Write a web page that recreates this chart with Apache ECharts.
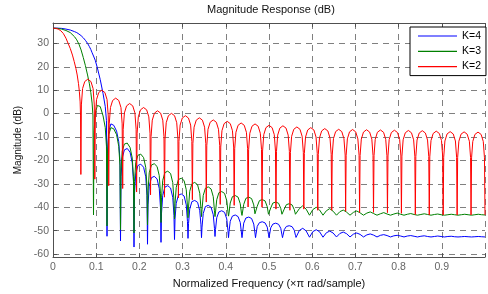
<!DOCTYPE html>
<html>
<head>
<meta charset="utf-8">
<title>Magnitude Response (dB)</title>
<script src="https://cdn.jsdelivr.net/npm/echarts@6/dist/echarts.min.js"></script>
<style>
  html, body { margin: 0; padding: 0; background: #fff; }
  #main { width: 488px; height: 294px; }
</style>
</head>
<body>
<div id="main"></div>
<script>
// legend names, same order as drawing (K=2 drawn last, on top)
var seriesNames = ['K=4', 'K=3', 'K=2'];
var seriesColors = ['#0000ff', '#008000', '#ff0000'];

// frequency samples for K=4 and K=3 (nulls every 1/32)
var freqA = [
  0, 0.01, 0.02, 0.03, 0.04, 0.05, 0.055, 0.06, 0.065, 0.07, 0.075, 0.08, 0.084, 0.0875, 0.0905, 0.0925,
  0.09375, 0.09495, 0.09775, 0.10275, 0.10935, 0.11595, 0.12095, 0.12375,
  0.125, 0.1262, 0.129, 0.134, 0.1406, 0.1472, 0.1522, 0.155,
  0.15625, 0.15745, 0.16025, 0.16525, 0.17185, 0.17845, 0.18345, 0.18625,
  0.1875, 0.1887, 0.1915, 0.1965, 0.2031, 0.2097, 0.2147, 0.2175,
  0.21875, 0.21995, 0.22275, 0.22775, 0.23435, 0.24095, 0.24595, 0.24875,
  0.25, 0.2512, 0.254, 0.259, 0.2656, 0.2722, 0.2772, 0.28,
  0.28125, 0.28245, 0.28525, 0.29025, 0.29685, 0.30345, 0.30845, 0.31125,
  0.3125, 0.3137, 0.3165, 0.3215, 0.3281, 0.3347, 0.3397, 0.3425,
  0.34375, 0.34495, 0.34775, 0.35275, 0.35935, 0.36595, 0.37095, 0.37375,
  0.375, 0.3762, 0.379, 0.384, 0.3906, 0.3972, 0.4022, 0.405,
  0.40625, 0.40745, 0.41025, 0.41525, 0.42185, 0.42845, 0.43345, 0.43625,
  0.4375, 0.4387, 0.4415, 0.4465, 0.4531, 0.4597, 0.4647, 0.4675,
  0.46875, 0.46995, 0.47275, 0.47775, 0.48435, 0.49095, 0.49595, 0.49875,
  0.5, 0.5012, 0.504, 0.509, 0.5156, 0.5222, 0.5272, 0.53,
  0.53125, 0.53245, 0.53525, 0.54025, 0.54685, 0.55345, 0.55845, 0.56125,
  0.5625, 0.5703, 0.5781, 0.5859,
  0.59375, 0.60155, 0.60935, 0.61715,
  0.625, 0.6328, 0.6406, 0.6484,
  0.65625, 0.66405, 0.67185, 0.67965,
  0.6875, 0.6953, 0.7031, 0.7109,
  0.71875, 0.72655, 0.73435, 0.74215,
  0.75, 0.7578, 0.7656, 0.7734,
  0.78125, 0.78905, 0.79685, 0.80465,
  0.8125, 0.8203, 0.8281, 0.8359,
  0.84375, 0.85155, 0.85935, 0.86715,
  0.875, 0.8828, 0.8906, 0.8984,
  0.90625, 0.91405, 0.92185, 0.92965,
  0.9375, 0.9453, 0.9531, 0.9609,
  0.96875, 0.97655, 0.98435, 0.99215,
  1
];

// K=4 magnitude (dB)
var magK4 = [
  36.5, 36.5, 36.4, 36.1, 35.7, 35, 34.6, 34, 33.3, 32.4, 31.3, 30, 28.7, 27.4, 26, 25.2,
  24.6, 24, 22.8, 19.5, 14.5, 8.5, 3, -3,
  -52.4, -16, -7.5, -4.4, -5, -7.5, -12, -20,
  -54.4, -27, -19, -15.5, -14.9, -16.5, -21, -29,
  -57, -34, -25.8, -22.2, -21.6, -22.9, -27, -35,
  -55.8, -39, -31, -27.4, -26.8, -27.9, -32, -40,
  -55, -42.5, -35, -31.4, -30.8, -31.8, -35.8, -43.5,
  -53.8, -45, -38.3, -34.9, -34.3, -35.2, -39, -46,
  -53.3, -47, -40.8, -37.6, -37.1, -37.9, -41.5, -47.5,
  -53, -48.5, -42.7, -39.7, -39.2, -40, -43.2, -49,
  -52.5, -49.5, -44.5, -42, -41.5, -42.2, -45, -50,
  -53, -50.5, -46, -43.8, -43.3, -44, -46.5, -51,
  -53, -51, -46.8, -44.6, -44.2, -44.8, -47.2, -51,
  -53, -51.5, -48.2, -46.6, -46.2, -46.7, -48.5, -51.5,
  -53, -51.8, -48.8, -47.2, -46.8, -47.3, -49, -51.8,
  -53, -52, -49.6, -48.2, -47.9, -48.3, -49.8, -52,
  -52.9, -49.9, -49, -50.1,
  -52.8, -50.4, -49.6, -50.5,
  -52.8, -50.9, -50.2, -51,
  -52.7, -51.2, -50.6, -51.3,
  -52.7, -51.5, -51, -51.6,
  -52.7, -51.8, -51.4, -51.9,
  -52.7, -52, -51.7, -52.1,
  -52.7, -52.2, -52, -52.3,
  -52.7, -52.3, -52.1, -52.4,
  -52.7, -52.4, -52.2, -52.5,
  -52.7, -52.5, -52.3, -52.5,
  -52.7, -52.5, -52.4, -52.6,
  -52.7, -52.6, -52.5, -52.6,
  -52.7, -52.6, -52.5, -52.6,
  -52.7
];

// K=3 magnitude (dB), green curve
var magK3 = [
  36.5, 36.4, 36.1, 35.5, 34.6, 32.8, 31.5, 29.7, 27.2, 24, 20.5, 16.5, 13, 9, 4.5, -1,
  -43.3, -8, 0, 3.5, 3, -1, -6, -14,
  -48, -17, -9, -6, -6.5, -9, -14, -22,
  -49.5, -24, -16, -13, -12.6, -14.5, -19, -27,
  -51, -29, -21, -17.8, -17.3, -18.8, -23, -31,
  -47.5, -33, -25.3, -22, -21.4, -22.6, -26.5, -34,
  -46.5, -36, -28.5, -25.2, -24.6, -25.6, -29.5, -37,
  -45, -38.5, -31.5, -28.2, -27.6, -28.6, -32.5, -39.5,
  -44.5, -40, -33.2, -30, -29.4, -30.4, -34, -40.5,
  -44, -41, -35, -31.9, -31.3, -32.2, -35.5, -41.5,
  -44, -42, -36.8, -33.8, -33.3, -34.1, -37.2, -42,
  -43.8, -42.5, -38.2, -35.5, -35, -35.7, -38.5, -42.5,
  -43.5, -42.8, -38.8, -36.2, -35.7, -36.3, -39, -42.8,
  -43.5, -43, -39.6, -37.2, -36.7, -37.3, -39.8, -43,
  -43.4, -43, -40.3, -38.2, -37.8, -38.3, -40.5, -43,
  -43.4, -43, -40.8, -38.9, -38.5, -39, -41, -43,
  -43.4, -40.6, -39.4, -40.8,
  -43.4, -41, -40, -41.2,
  -43.4, -41.5, -40.6, -41.7,
  -43.4, -41.9, -41.2, -42.1,
  -43.4, -42.2, -41.6, -42.4,
  -43.4, -42.5, -42, -42.7,
  -43.4, -42.8, -42.3, -42.9,
  -43.4, -42.9, -42.5, -43,
  -43.4, -43, -42.7, -43.1,
  -43.4, -43.1, -42.8, -43.1,
  -43.4, -43.1, -42.9, -43.2,
  -43.4, -43.2, -43, -43.2,
  -43.4, -43.2, -43, -43.2,
  -43.4, -43.2, -43, -43.2,
  -43.3
];

// frequency samples for K=2 (nulls every 1/31)
var freqB = [
  0, 0.006, 0.012, 0.018, 0.024, 0.03, 0.035, 0.04, 0.045, 0.049, 0.053, 0.056, 0.059, 0.061, 0.0628, 0.0638,
  0.0645, 0.0657, 0.0685, 0.0735, 0.0806, 0.0878, 0.0928, 0.0956,
  0.0968, 0.0980, 0.1008, 0.1058, 0.1129, 0.1201, 0.1251, 0.1279,
  0.1290, 0.1302, 0.1330, 0.1380, 0.1451, 0.1523, 0.1573, 0.1601,
  0.1613, 0.1625, 0.1653, 0.1703, 0.1774, 0.1846, 0.1896, 0.1924,
  0.1935, 0.1947, 0.1975, 0.2025, 0.2096, 0.2168, 0.2218, 0.2246,
  0.2258, 0.2270, 0.2298, 0.2348, 0.2419, 0.2491, 0.2541, 0.2569,
  0.2581, 0.2593, 0.2621, 0.2671, 0.2742, 0.2814, 0.2864, 0.2892,
  0.2903, 0.2915, 0.2943, 0.2993, 0.3064, 0.3136, 0.3186, 0.3214,
  0.3226, 0.3238, 0.3266, 0.3316, 0.3387, 0.3459, 0.3509, 0.3537,
  0.3548, 0.3560, 0.3588, 0.3638, 0.3709, 0.3781, 0.3831, 0.3859,
  0.3871, 0.3883, 0.3911, 0.3961, 0.4032, 0.4104, 0.4154, 0.4182,
  0.4194, 0.4206, 0.4234, 0.4284, 0.4355, 0.4427, 0.4477, 0.4505,
  0.4516, 0.4528, 0.4556, 0.4606, 0.4677, 0.4749, 0.4799, 0.4827,
  0.4839, 0.4851, 0.4879, 0.4929, 0.5000, 0.5072, 0.5122, 0.5150,
  0.5161, 0.5173, 0.5201, 0.5251, 0.5322, 0.5394, 0.5444, 0.5472,
  0.5484, 0.5496, 0.5524, 0.5574, 0.5645, 0.5717, 0.5767, 0.5795,
  0.5806, 0.5818, 0.5846, 0.5896, 0.5967, 0.6039, 0.6089, 0.6117,
  0.6129, 0.6141, 0.6169, 0.6219, 0.6290, 0.6362, 0.6412, 0.6440,
  0.6452, 0.6464, 0.6492, 0.6542, 0.6613, 0.6685, 0.6735, 0.6763,
  0.6774, 0.6786, 0.6814, 0.6864, 0.6935, 0.7007, 0.7057, 0.7085,
  0.7097, 0.7109, 0.7137, 0.7187, 0.7258, 0.7330, 0.7380, 0.7408,
  0.7419, 0.7431, 0.7459, 0.7509, 0.7580, 0.7652, 0.7702, 0.7730,
  0.7742, 0.7754, 0.7782, 0.7832, 0.7903, 0.7975, 0.8025, 0.8053,
  0.8065, 0.8077, 0.8105, 0.8155, 0.8226, 0.8298, 0.8348, 0.8376,
  0.8387, 0.8399, 0.8427, 0.8477, 0.8548, 0.8620, 0.8670, 0.8698,
  0.8710, 0.8722, 0.8750, 0.8800, 0.8871, 0.8943, 0.8993, 0.9021,
  0.9032, 0.9044, 0.9072, 0.9122, 0.9193, 0.9265, 0.9315, 0.9343,
  0.9355, 0.9367, 0.9395, 0.9445, 0.9516, 0.9588, 0.9638, 0.9666,
  0.9677, 0.9689, 0.9717, 0.9767, 0.9838, 0.9910, 0.9960, 0.9988,
  1
];

// K=2 magnitude (dB), red curve
var magK2 = [
  36.5, 36.4, 36.1, 35.4, 34.2, 32.2, 30, 27.8, 25, 22.3, 19.3, 16.5, 12.8, 9.5, 5, -1,
  -26, 3.7, 10.7, 13.7, 14.7, 13.7, 10.7, 3.7,
  -28, -1, 6, 9, 10, 9, 6, -1,
  -30.8, -4.4, 2.6, 5.6, 6.6, 5.6, 2.6, -4.4,
  -32, -6.7, 0.3, 3.3, 4.3, 3.3, 0.3, -6.7,
  -33.5, -8.4, -1.4, 1.6, 2.6, 1.6, -1.4, -8.4,
  -34.7, -9.8, -2.8, 0.2, 1.2, 0.2, -2.8, -9.8,
  -35.7, -10.9, -3.9, -0.9, 0.1, -0.9, -3.9, -10.9,
  -36, -11.9, -4.9, -1.9, -0.9, -1.9, -4.9, -11.9,
  -36.8, -12.8, -5.8, -2.8, -1.8, -2.8, -5.8, -12.8,
  -37.8, -13.7, -6.7, -3.7, -2.7, -3.7, -6.7, -13.7,
  -38.8, -14.3, -7.3, -4.3, -3.3, -4.3, -7.3, -14.3,
  -39.2, -15, -8, -5, -4, -5, -8, -15,
  -39.9, -15.4, -8.4, -5.4, -4.4, -5.4, -8.4, -15.4,
  -40, -16, -9, -6, -5, -6, -9, -16,
  -40.8, -16.2, -9.2, -6.2, -5.2, -6.2, -9.2, -16.2,
  -41.3, -16.7, -9.7, -6.7, -5.7, -6.7, -9.7, -16.7,
  -40.8, -17, -10, -7, -6, -7, -10, -17,
  -41.3, -17.4, -10.4, -7.4, -6.4, -7.4, -10.4, -17.4,
  -41.3, -17.7, -10.7, -7.7, -6.7, -7.7, -10.7, -17.7,
  -41.7, -17.8, -10.8, -7.8, -6.8, -7.8, -10.8, -17.8,
  -42.2, -17.9, -10.9, -7.9, -6.9, -7.9, -10.9, -17.9,
  -42.2, -18, -11, -8, -7, -8, -11, -18,
  -42.3, -18.1, -11.1, -8.1, -7.1, -8.1, -11.1, -18.1,
  -42.6, -18.2, -11.2, -8.2, -7.2, -8.2, -11.2, -18.2,
  -43.1, -18.3, -11.3, -8.3, -7.3, -8.3, -11.3, -18.3,
  -43.3, -18.5, -11.5, -8.5, -7.5, -8.5, -11.5, -18.5,
  -43.3, -18.7, -11.7, -8.7, -7.7, -8.7, -11.7, -18.7,
  -43.3, -18.8, -11.8, -8.8, -7.8, -8.8, -11.8, -18.8,
  -43.3, -18.9, -11.9, -8.9, -7.9, -8.9, -11.9, -18.9,
  -43.3
];

// axis limits (MATLAB-ish auto limits of the picture)
var xMin = 0, xMax = 1, xStep = 0.1;
var yMin = -61.3, yMax = 38.7;

var fontFam = 'Liberation Sans, Arial, Helvetica, sans-serif';

function pairs(xs, ys) {
  var out = [];
  for (var i = 0; i < xs.length; i++) out.push([xs[i], ys[i]]);
  return out;
}

var gridDash = { color: '#808080', width: 1, type: [6, 5] };
var axisCol = '#505050';

var chart = echarts.init(document.getElementById('main'), null, { renderer: 'canvas' });

var option = {
  animation: false,
  backgroundColor: '#fff',
  title: {
    text: 'Magnitude Response (dB)',
    left: 207,
    top: 4,
    padding: 0,
    textStyle: { fontFamily: fontFam, fontSize: 11, fontWeight: 'normal', color: '#111' }
  },
  legend: {
    data: seriesNames,
    orient: 'vertical',
    left: 410,
    top: 27,
    icon: 'rect',
    itemWidth: 39,
    itemHeight: 1.2,
    itemGap: 3.3,
    padding: [3, 5, 3, 8],
    borderColor: '#000',
    borderWidth: 1,
    borderRadius: 0,
    backgroundColor: '#fff',
    textStyle: { fontFamily: fontFam, fontSize: 10.5, color: '#000', lineHeight: 12 }
  },
  grid: { left: 53, top: 23, width: 439, height: 241, containLabel: false },
  xAxis: [{
    type: 'value',
    position: 'bottom',
    min: xMin, max: xMax, interval: xStep,
    name: 'Normalized Frequency (\u00d7\u03c0 rad/sample)',
    nameLocation: 'middle',
    nameGap: 17,
    nameTextStyle: { fontFamily: fontFam, fontSize: 11, color: '#111' },
    axisLine: { onZero: false, lineStyle: { color: axisCol, width: 1 } },
    axisTick: { inside: true, length: 4, lineStyle: { color: axisCol } },
    axisLabel: {
      color: '#666', fontFamily: fontFam, fontSize: 10.5, margin: 5,
      formatter: function (v) { return v >= 1 ? '' : String(+v.toFixed(1)); }
    },
    splitLine: { show: true, lineStyle: gridDash }
  }, {
    // top border of the box, ticks only
    type: 'value',
    position: 'top',
    min: xMin, max: xMax, interval: xStep,
    axisLine: { onZero: false, lineStyle: { color: axisCol, width: 1 } },
    axisTick: { inside: true, length: 4, lineStyle: { color: axisCol } },
    axisLabel: { show: false },
    splitLine: { show: false }
  }],
  yAxis: {
    type: 'value',
    min: yMin, max: yMax, splitNumber: 10,
    name: 'Magnitude (dB)',
    nameLocation: 'middle',
    nameGap: 30,
    nameTextStyle: { fontFamily: fontFam, fontSize: 10, color: '#111' },
    axisLine: { show: true, onZero: false, lineStyle: { color: axisCol, width: 1 } },
    axisTick: { inside: true, length: 4, lineStyle: { color: axisCol } },
    axisLabel: {
      color: '#666', fontFamily: fontFam, fontSize: 10.5, margin: 4,
      showMinLabel: false, showMaxLabel: false,
      formatter: function (v) { return Math.abs(v % 10) > 0.01 ? '' : String(v); }
    },
    splitLine: { show: true, lineStyle: gridDash }
  },
  series: [
    { name: seriesNames[0], data: pairs(freqA, magK4) },
    { name: seriesNames[1], data: pairs(freqA, magK3) },
    { name: seriesNames[2], data: pairs(freqB, magK2) }
  ].map(function (s, i) {
    return {
      name: s.name,
      type: 'line',
      xAxisIndex: 0,
      data: s.data,
      symbol: 'none',
      showSymbol: false,
      color: seriesColors[i],
      lineStyle: { color: seriesColors[i], width: 1 },
      itemStyle: { color: seriesColors[i] }
    };
  })
};

chart.setOption(option);
</script>
</body>
</html>
